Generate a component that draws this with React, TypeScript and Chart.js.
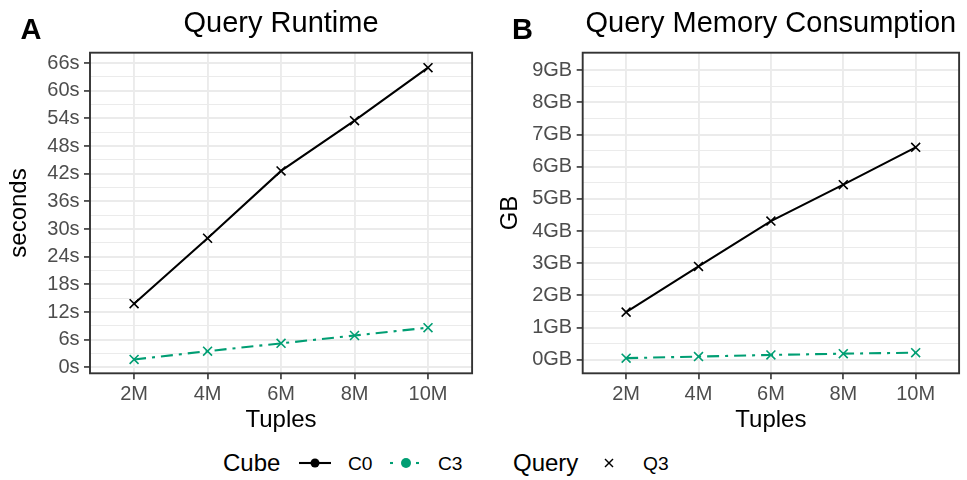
import React, { useEffect, useRef } from "react";
import { Chart, registerables } from "chart.js";

Chart.register(...registerables);

// ---------- data ----------
const tuples = [2, 4, 6, 8, 10];
const tupleLabels = ["2M", "4M", "6M", "8M", "10M"];

const runtimeC0 = [13.8, 28.0, 42.6, 53.5, 65.0];
const runtimeC3 = [1.7, 3.5, 5.2, 6.9, 8.6];

const memoryC0 = [1.48, 2.9, 4.31, 5.44, 6.6];
const memoryC3 = [0.05, 0.1, 0.15, 0.19, 0.22];

const runtimeMajorTicks = [0, 6, 12, 18, 24, 30, 36, 42, 48, 54, 60, 66];
const runtimeMinorTicks = [3, 9, 15, 21, 27, 33, 39, 45, 51, 57, 63];
const memoryMajorTicks = [0, 1, 2, 3, 4, 5, 6, 7, 8, 9];
const memoryMinorTicks = [0.5, 1.5, 2.5, 3.5, 4.5, 5.5, 6.5, 7.5, 8.5];

const runtimeRange = [-1.3, 68.25];
const memoryRange = [-0.42, 9.54];
const tupleRange = [0.8, 11.2];

const C0_COLOR = "#000000";
const C3_COLOR = "#009E73";
const FONT = "'Liberation Sans', Arial, Helvetica, sans-serif";

const framePlugin = {
  id: "frame",
  afterDatasetsDraw(chart: any) {
    const { ctx, chartArea } = chart;
    const { left, top, right, bottom } = chartArea;
    ctx.save();
    ctx.strokeStyle = "#333333";
    ctx.lineWidth = 1.9;
    ctx.strokeRect(left, top, right - left, bottom - top);
    ctx.restore();
  },
};

interface PanelOpts {
  title: string;
  yTitle: string;
  c0: number[];
  c3: number[];
  majors: number[];
  minors: number[];
  range: number[];
  unit: string;
  yAxisWidth: number;
  yTitlePad: number;
  padRight: number;
}

function buildConfig(o: PanelOpts): any {
  const isMajor = (v: number) => o.majors.some((m) => Math.abs(m - v) < 1e-9);
  const allTicks = [...o.majors, ...o.minors].sort((a, b) => a - b);
  return {
    type: "line",
    data: {
      datasets: [
        {
          label: "C0",
          data: tuples.map((t, i) => ({ x: t, y: o.c0[i] })),
          borderColor: C0_COLOR,
          backgroundColor: C0_COLOR,
          borderWidth: 2.1,
          pointStyle: "crossRot",
          pointRadius: 6.3,
          pointBorderWidth: 1.6,
          pointBorderColor: C0_COLOR,
          tension: 0,
        },
        {
          label: "C3",
          data: tuples.map((t, i) => ({ x: t, y: o.c3[i] })),
          borderColor: C3_COLOR,
          backgroundColor: C3_COLOR,
          borderWidth: 2.1,
          borderDash: [12, 6, 3, 6],
          pointStyle: "crossRot",
          pointRadius: 6.3,
          pointBorderWidth: 1.6,
          pointBorderColor: C3_COLOR,
          tension: 0,
        },
      ],
    },
    options: {
      responsive: false,
      animation: false,
      devicePixelRatio: window.devicePixelRatio || 1,
      layout: { padding: { left: 0, right: o.padRight, top: 0, bottom: 0 } },
      plugins: {
        legend: { display: false },
        tooltip: { enabled: false },
        title: {
          display: true,
          text: o.title,
          fullSize: false,
          color: "#000000",
          font: { family: FONT, size: 29, weight: "normal", lineHeight: 1.2 },
          padding: { top: 6.6, bottom: 11.3 },
        },
      },
      scales: {
        x: {
          type: "linear",
          min: tupleRange[0],
          max: tupleRange[1],
          afterBuildTicks: (scale: any) => {
            scale.ticks = tuples.map((v) => ({ value: v }));
          },
          afterFit: (scale: any) => {
            scale.height = 66.7;
          },
          ticks: {
            autoSkip: false,
            maxRotation: 0,
            color: "#4D4D4D",
            font: { family: FONT, size: 20, lineHeight: 1.2 },
            padding: 3.2,
            callback: (v: any) => {
              const i = tuples.indexOf(Number(v));
              return i >= 0 ? tupleLabels[i] : "";
            },
          },
          grid: {
            color: "#EBEBEB",
            lineWidth: 1.9,
            drawTicks: true,
            tickLength: 6,
            tickColor: "#333333",
            tickWidth: 1.6,
          },
          border: { display: false },
          title: {
            display: true,
            text: "Tuples",
            color: "#000000",
            font: { family: FONT, size: 24, lineHeight: 1.2 },
            padding: { top: 0, bottom: 5.2 },
          },
        },
        y: {
          type: "linear",
          min: o.range[0],
          max: o.range[1],
          afterBuildTicks: (scale: any) => {
            scale.ticks = allTicks.map((v) => ({ value: v }));
          },
          afterFit: (scale: any) => {
            scale.width = o.yAxisWidth;
          },
          ticks: {
            autoSkip: false,
            color: "#4D4D4D",
            font: { family: FONT, size: 20, lineHeight: 1.2 },
            padding: 4.5,
            callback: (v: any) => (isMajor(Number(v)) ? `${Number(v)}${o.unit}` : ""),
          },
          grid: {
            color: "#EBEBEB",
            lineWidth: (ctx: any) => (ctx.tick && isMajor(ctx.tick.value) ? 1.9 : 1.0),
            drawTicks: true,
            tickLength: 6,
            tickColor: (ctx: any) =>
              ctx.tick && isMajor(ctx.tick.value) ? "#333333" : "rgba(0,0,0,0)",
            tickWidth: 1.6,
          },
          border: { display: false },
          title: {
            display: true,
            text: o.yTitle,
            color: "#000000",
            font: { family: FONT, size: 24, lineHeight: 1.2 },
            padding: { top: o.yTitlePad, bottom: 0 },
          },
        },
      },
    },
    plugins: [framePlugin],
  };
}

function Panel(props: { opts: PanelOpts; left: number; width: number; height: number }) {
  const ref = useRef<HTMLCanvasElement | null>(null);
  useEffect(() => {
    if (!ref.current) return;
    const chart = new Chart(ref.current, buildConfig(props.opts));
    return () => chart.destroy();
  }, []);
  return (
    <div style={{ position: "absolute", left: props.left, top: 0, width: props.width, height: props.height }}>
      <canvas
        ref={ref}
        width={props.width}
        height={props.height}
        style={{ width: props.width, height: props.height, display: "block" }}
      />
    </div>
  );
}

const textBase: React.CSSProperties = {
  position: "absolute",
  fontFamily: FONT,
  lineHeight: 1,
  whiteSpace: "nowrap",
  color: "#000",
};

export default function App() {
  const panelA: PanelOpts = {
    title: "Query Runtime",
    yTitle: "seconds",
    c0: runtimeC0,
    c3: runtimeC3,
    majors: runtimeMajorTicks,
    minors: runtimeMinorTicks,
    range: runtimeRange,
    unit: "s",
    yAxisWidth: 90,
    yTitlePad: 4.6,
    padRight: 5,
  };
  const panelB: PanelOpts = {
    title: "Query Memory Consumption",
    yTitle: "GB",
    c0: memoryC0,
    c3: memoryC3,
    majors: memoryMajorTicks,
    minors: memoryMinorTicks,
    range: memoryRange,
    unit: "GB",
    yAxisWidth: 102.7,
    yTitlePad: 15.6,
    padRight: 1,
  };
  return (
    <div
      style={{
        position: "fixed",
        left: 0,
        top: 0,
        width: 967,
        height: 480,
        background: "#ffffff",
        overflow: "hidden",
      }}
    >
      <Panel opts={panelA} left={0} width={480} height={440} />
      <Panel opts={panelB} left={480} width={487} height={440} />

      <div style={{ ...textBase, left: 20.5, top: 14.5, fontSize: 29, fontWeight: "bold" }}>A</div>
      <div style={{ ...textBase, left: 512, top: 14.5, fontSize: 29, fontWeight: "bold" }}>B</div>

      {/* legend */}
      <div style={{ ...textBase, left: 223, top: 451.3, fontSize: 24 }}>Cube</div>
      <svg style={{ position: "absolute", left: 296, top: 453 }} width={40} height={20}>
        <line x1={3} y1={10} x2={35} y2={10} stroke={C0_COLOR} strokeWidth={2.1} />
        <circle cx={19} cy={10} r={4.5} fill={C0_COLOR} />
      </svg>
      <div style={{ ...textBase, left: 348, top: 453.6, fontSize: 19.2 }}>C0</div>
      <svg style={{ position: "absolute", left: 386, top: 453 }} width={40} height={20}>
        <line x1={4} y1={10} x2={7} y2={10} stroke={C3_COLOR} strokeWidth={2.1} />
        <line x1={30} y1={10} x2={33} y2={10} stroke={C3_COLOR} strokeWidth={2.1} />
        <circle cx={20} cy={10} r={5} fill={C3_COLOR} />
      </svg>
      <div style={{ ...textBase, left: 438, top: 453.6, fontSize: 19.2 }}>C3</div>
      <div style={{ ...textBase, left: 513, top: 451.3, fontSize: 24 }}>Query</div>
      <svg style={{ position: "absolute", left: 599, top: 453 }} width={20} height={20}>
        <line x1={6} y1={6} x2={14} y2={14} stroke="#000" strokeWidth={1.4} />
        <line x1={14} y1={6} x2={6} y2={14} stroke="#000" strokeWidth={1.4} />
      </svg>
      <div style={{ ...textBase, left: 643, top: 453.6, fontSize: 19.2 }}>Q3</div>
    </div>
  );
}
